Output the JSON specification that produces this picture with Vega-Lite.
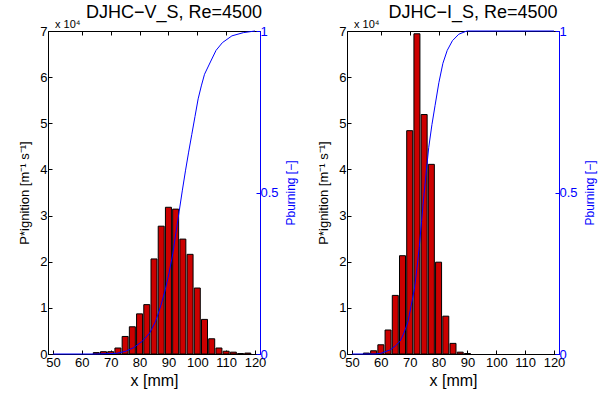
{
  "$schema": "https://vega.github.io/schema/vega-lite/v6.json",
  "padding": {"left": 18, "top": 3, "right": 5, "bottom": 2},
  "spacing": 20,
  "config": {
    "font": "Liberation Sans",
    "view": {"stroke": "black", "strokeWidth": 1},
    "axis": {"grid": false, "labelFont": "Liberation Sans", "titleFont": "Liberation Sans", "labelFontSize": 13, "titleFontSize": 13, "titleFontWeight": "normal", "labelColor": "black", "titleColor": "black", "domainColor": "black", "tickColor": "black"}
  },
  "datasets": {
    "barsV": [
      {"x": 65, "p": 0.03}, {"x": 67.5, "p": 0.05}, {"x": 70, "p": 0.05}, {"x": 72.5, "p": 0.13},
      {"x": 75, "p": 0.38}, {"x": 77.5, "p": 0.59}, {"x": 80, "p": 0.87}, {"x": 82.5, "p": 1.07},
      {"x": 85, "p": 2.06}, {"x": 87.5, "p": 2.77}, {"x": 90, "p": 3.18}, {"x": 92.5, "p": 3.14},
      {"x": 95, "p": 2.49}, {"x": 97.5, "p": 2.16}, {"x": 100, "p": 1.43}, {"x": 102.5, "p": 0.75},
      {"x": 105, "p": 0.33}, {"x": 107.5, "p": 0.13}, {"x": 110, "p": 0.06}, {"x": 112.5, "p": 0.04},
      {"x": 115, "p": 0.01}, {"x": 117.5, "p": 0.02}
    ],
    "cdfV": [
      {"x": 50, "p": 0}, {"x": 65, "p": 0}, {"x": 72, "p": 0.002}, {"x": 75, "p": 0.008}, {"x": 78, "p": 0.02},
      {"x": 81, "p": 0.04}, {"x": 83.5, "p": 0.065}, {"x": 85.5, "p": 0.10}, {"x": 87.2, "p": 0.145},
      {"x": 88.8, "p": 0.195}, {"x": 90.2, "p": 0.25}, {"x": 91.5, "p": 0.31}, {"x": 92.6, "p": 0.375},
      {"x": 93.7, "p": 0.44}, {"x": 94.8, "p": 0.505}, {"x": 95.9, "p": 0.567}, {"x": 97, "p": 0.625},
      {"x": 98.1, "p": 0.68}, {"x": 99.2, "p": 0.735}, {"x": 100.3, "p": 0.79}, {"x": 101.4, "p": 0.83},
      {"x": 102.5, "p": 0.866}, {"x": 104.7, "p": 0.907}, {"x": 106.5, "p": 0.94}, {"x": 108.7, "p": 0.964},
      {"x": 112, "p": 0.985}, {"x": 116, "p": 0.995}, {"x": 120, "p": 1}
    ],
    "barsI": [
      {"x": 55, "p": 0.02}, {"x": 57.5, "p": 0.07}, {"x": 60, "p": 0.2}, {"x": 62.5, "p": 0.52},
      {"x": 65, "p": 1.27}, {"x": 67.5, "p": 2.13}, {"x": 70, "p": 4.84}, {"x": 72.5, "p": 6.94},
      {"x": 75, "p": 5.19}, {"x": 77.5, "p": 4.11}, {"x": 80, "p": 1.99}, {"x": 82.5, "p": 0.82},
      {"x": 85, "p": 0.23}, {"x": 87.5, "p": 0.04}, {"x": 90, "p": 0.01}
    ],
    "cdfI": [
      {"x": 50, "p": 0}, {"x": 58, "p": 0}, {"x": 60, "p": 0.002}, {"x": 63.3, "p": 0.013}, {"x": 65, "p": 0.025},
      {"x": 66.7, "p": 0.04}, {"x": 68, "p": 0.065}, {"x": 69.4, "p": 0.10}, {"x": 70.5, "p": 0.15},
      {"x": 71.6, "p": 0.20}, {"x": 72.5, "p": 0.265}, {"x": 73.3, "p": 0.33}, {"x": 74.1, "p": 0.41},
      {"x": 74.9, "p": 0.49}, {"x": 75.8, "p": 0.57}, {"x": 76.6, "p": 0.64}, {"x": 77.7, "p": 0.71},
      {"x": 78.8, "p": 0.77}, {"x": 80.1, "p": 0.84}, {"x": 81.5, "p": 0.90}, {"x": 83, "p": 0.94},
      {"x": 84.8, "p": 0.97}, {"x": 87, "p": 0.99}, {"x": 89.5, "p": 0.999}, {"x": 90, "p": 1}, {"x": 120, "p": 1}
    ]
  },
  "hconcat": [
    {
      "width": 212, "height": 323,
      "title": {"text": "DJHC−V_S, Re=4500", "fontSize": 18, "fontWeight": "normal", "font": "Liberation Sans", "frame": "group", "offset": -3, "dx": 20},
      "layer": [
        {
          "data": {"name": "barsV"},
          "mark": {"type": "bar", "color": "#cc0000", "stroke": "black", "strokeWidth": 1, "width": 6},
          "encoding": {
            "x": {"field": "x", "type": "quantitative", "scale": {"domain": [50, 120], "nice": false},
              "axis": {"values": [50, 60, 70, 80, 90, 100, 110, 120], "title": "x [mm]", "titleFontSize": 16, "tickSize": -4, "labelPadding": 6, "titlePadding": 3}},
            "y": {"field": "p", "type": "quantitative", "scale": {"domain": [0, 7], "nice": false},
              "axis": {"orient": "left", "values": [0, 1, 2, 3, 4, 5, 6, 7], "format": "d", "title": "P*ignition [m⁻¹ s⁻¹]", "tickSize": -4, "labelPadding": 5, "titlePadding": 8}}
          }
        },
        {
          "data": {"name": "cdfV"},
          "mark": {"type": "line", "color": "#0000ff", "strokeWidth": 1},
          "encoding": {
            "x": {"field": "x", "type": "quantitative", "scale": {"domain": [50, 120], "nice": false},
              "axis": {"orient": "top", "values": [60, 70, 80, 90, 100, 110], "labels": false, "title": null, "domain": false, "tickSize": -4}},
            "y": {"field": "p", "type": "quantitative", "scale": {"domain": [0, 1], "nice": false},
              "axis": {"orient": "right", "values": [0, 0.5, 1], "format": ".1~f", "title": "Pburning [−]", "titleAngle": 270, "titleFontSize": 12, "labelColor": "#0000ff", "titleColor": "#0000ff", "domainColor": "#0000ff", "tickColor": "#0000ff", "tickSize": -4, "labelPadding": 4, "titlePadding": 19}}
          }
        },
        {
          "data": {"values": [{"label": "x 10⁴"}]},
          "mark": {"type": "text", "align": "left", "baseline": "alphabetic", "fontSize": 11, "dy": -3, "dx": 2, "font": "Liberation Sans"},
          "encoding": {
            "x": {"datum": 50, "type": "quantitative", "axis": null},
            "y": {"datum": 7, "type": "quantitative", "scale": {"domain": [0, 7], "nice": false}, "axis": null},
            "text": {"field": "label"}
          }
        }
      ],
      "resolve": {"scale": {"y": "independent"}, "axis": {"x": "independent", "y": "independent"}}
    },
    {
      "width": 212, "height": 323,
      "title": {"text": "DJHC−I_S, Re=4500", "fontSize": 18, "fontWeight": "normal", "font": "Liberation Sans", "frame": "group", "offset": -3, "dx": 20},
      "layer": [
        {
          "data": {"name": "barsI"},
          "mark": {"type": "bar", "color": "#cc0000", "stroke": "black", "strokeWidth": 1, "width": 6},
          "encoding": {
            "x": {"field": "x", "type": "quantitative", "scale": {"domain": [50, 120], "nice": false},
              "axis": {"values": [50, 60, 70, 80, 90, 100, 110, 120], "title": "x [mm]", "titleFontSize": 16, "tickSize": -4, "labelPadding": 6, "titlePadding": 3}},
            "y": {"field": "p", "type": "quantitative", "scale": {"domain": [0, 7], "nice": false},
              "axis": {"orient": "left", "values": [0, 1, 2, 3, 4, 5, 6, 7], "format": "d", "title": "P*ignition [m⁻¹ s⁻¹]", "tickSize": -4, "labelPadding": 5, "titlePadding": 8}}
          }
        },
        {
          "data": {"name": "cdfI"},
          "mark": {"type": "line", "color": "#0000ff", "strokeWidth": 1},
          "encoding": {
            "x": {"field": "x", "type": "quantitative", "scale": {"domain": [50, 120], "nice": false},
              "axis": {"orient": "top", "values": [60, 70, 80, 90, 100, 110], "labels": false, "title": null, "domain": false, "tickSize": -4}},
            "y": {"field": "p", "type": "quantitative", "scale": {"domain": [0, 1], "nice": false},
              "axis": {"orient": "right", "values": [0, 0.5, 1], "format": ".1~f", "title": "Pburning [−]", "titleAngle": 270, "titleFontSize": 12, "labelColor": "#0000ff", "titleColor": "#0000ff", "domainColor": "#0000ff", "tickColor": "#0000ff", "tickSize": -4, "labelPadding": 4, "titlePadding": 19}}
          }
        },
        {
          "data": {"values": [{"label": "x 10⁴"}]},
          "mark": {"type": "text", "align": "left", "baseline": "alphabetic", "fontSize": 11, "dy": -3, "dx": 2, "font": "Liberation Sans"},
          "encoding": {
            "x": {"datum": 50, "type": "quantitative", "axis": null},
            "y": {"datum": 7, "type": "quantitative", "scale": {"domain": [0, 7], "nice": false}, "axis": null},
            "text": {"field": "label"}
          }
        }
      ],
      "resolve": {"scale": {"y": "independent"}, "axis": {"x": "independent", "y": "independent"}}
    }
  ]
}
